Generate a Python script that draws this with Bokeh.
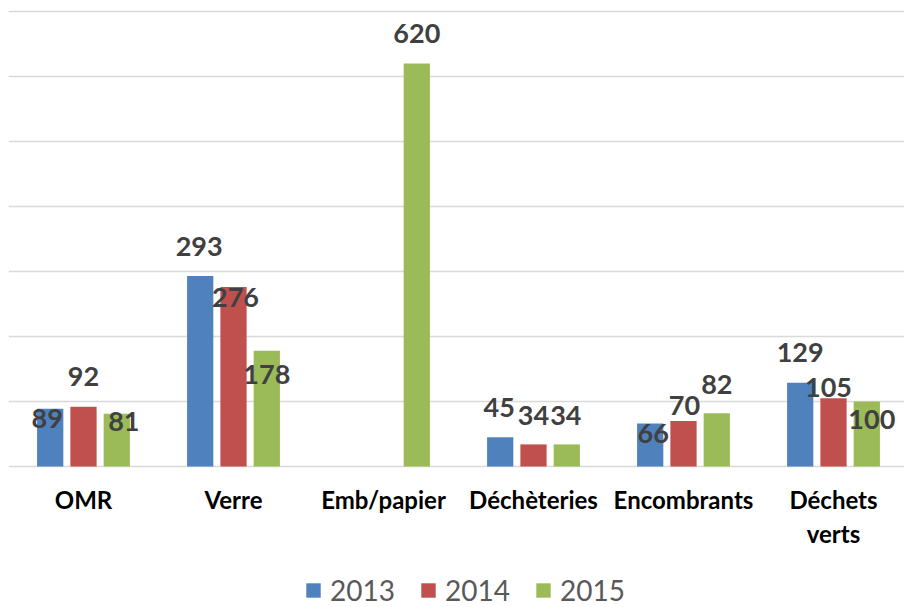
from bokeh.plotting import figure
from bokeh.models import ColumnDataSource, Range1d, FixedTicker, Legend, LegendItem, Grid
from bokeh.core.properties import value
from bokeh.embed import file_html
from bokeh.resources import INLINE

categories = ["OMR", "Verre", "Emb/papier", "Déchèteries", "Encombrants", "Déchets\nverts"]
years = ["2013", "2014", "2015"]
v2013 = [89, 293, None, 45, 66, 129]
v2014 = [92, 276, None, 34, 70, 105]
v2015 = [81, 178, 620, 34, 82, 100]
y_ticks = [0, 100, 200, 300, 400, 500, 600, 700]

series = [v2013, v2014, v2015]
colors = ["#4F81BD", "#C0504D", "#9BBB59"]
# label placement offsets in pixels (style only)
lab_dx = [[-3, -1, 0, -1, 3, 0], [0, 2, 0, 0, 1, -5], [7, 0, 0, -1, 0, 5]]
lab_dy = [[10, -30, 0, -30, 10, -30], [-30, 10, 0, -29, -16, -11], [8, 24, -30, -29, -29, 18]]
shift = [-0.222, 0.0, 0.222]
bar_w = 0.175

FONT = "Lato"
PX = 0.65  # pixels per value unit

p = figure(frame_width=896, frame_height=599, output_backend="svg", toolbar_location=None,
           x_range=Range1d(-0.5, -0.5 + 896 / 150),
           y_range=Range1d(-141 / PX, 458 / PX),
           x_axis_location=None, y_axis_location=None,
           min_border_left=8, min_border_right=0, min_border_top=8, min_border_bottom=0)
p.outline_line_color = None
# drop default grids, add value gridlines only
p.center = [r for r in p.center if not isinstance(r, Grid)]
p.add_layout(Grid(dimension=1, ticker=FixedTicker(ticks=y_ticks),
                  grid_line_color="#D9D9D9", grid_line_width=1.5))

items = []
for k, (vals, col, yr) in enumerate(zip(series, colors, years)):
    xs, tops, txt, dx, dy = [], [], [], [], []
    for i, v in enumerate(vals):
        if v is None:
            continue
        xs.append(i + shift[k])
        tops.append(v)
        txt.append(str(v))
        dx.append(lab_dx[k][i])
        dy.append(lab_dy[k][i])
    src = ColumnDataSource(dict(x=xs, top=tops, text=txt, dx=dx, dy=dy))
    r = p.vbar(x="x", top="top", width=bar_w, bottom=0, source=src,
               fill_color=col, line_color=None)
    items.append(LegendItem(label=yr, renderers=[r]))
    p.text(x="x", y="top", text="text", x_offset="dx", y_offset="dy", source=src,
           text_font=value(FONT), text_font_style="bold", text_font_size="27px",
           text_color="#404040", text_align="center", text_baseline="middle")

# category axis labels
cat_src = ColumnDataSource(dict(x=list(range(len(categories))),
                                y=[0] * len(categories), text=categories))
p.text(x="x", y="y", text="text", source=cat_src, y_offset=18,
       text_font=value(FONT), text_font_style="bold", text_font_size="24px",
       text_color="#000000", text_align="center", text_baseline="top")

legend = Legend(items=items, orientation="horizontal", location=(296, 0),
                label_text_font=FONT, label_text_font_size="28px",
                label_text_color="#595959", glyph_width=18, glyph_height=18,
                label_standoff=8, spacing=24, border_line_color=None,
                background_fill_alpha=0, margin=0, padding=0)
p.add_layout(legend)

open("out.html", "w").write(file_html(p, INLINE))
